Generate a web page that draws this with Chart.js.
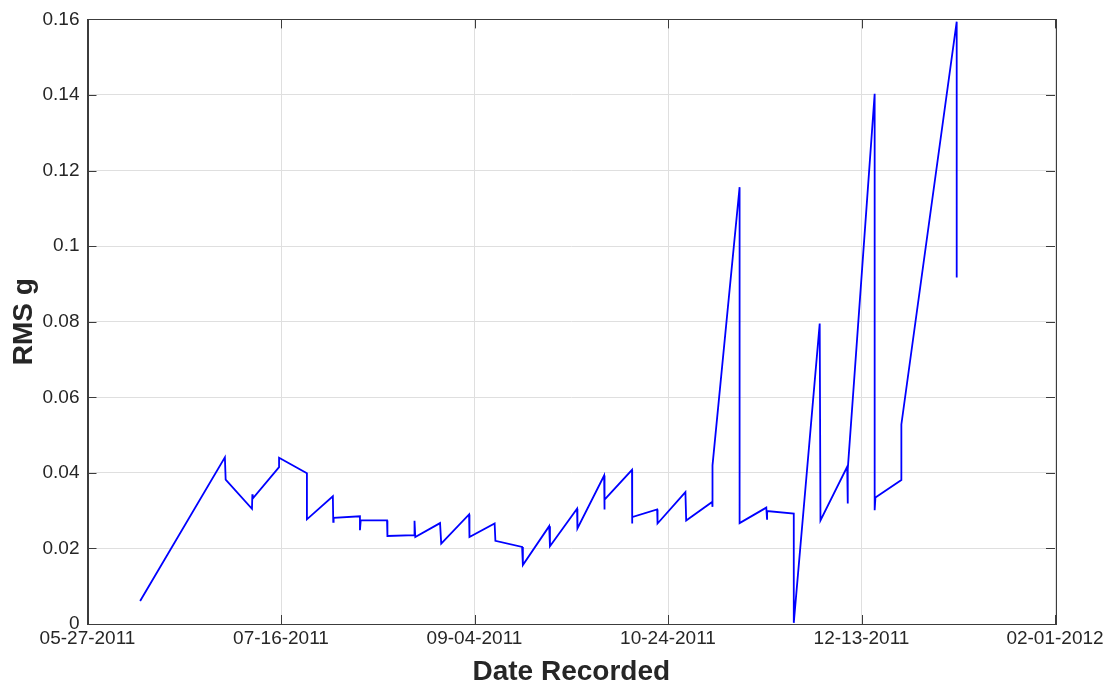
<!DOCTYPE html>
<html>
<head>
<meta charset="utf-8">
<title>RMS g by Date Recorded</title>
<script src="https://cdn.jsdelivr.net/npm/chart.js@4.4.1/dist/chart.umd.min.js"></script>
<style>
  html, body { margin: 0; padding: 0; background: #fff; }
  #wrap { width: 1109px; height: 688px; }
</style>
</head>
<body>
<div id="wrap"><canvas id="rmsChart" width="1109" height="688"></canvas></div>
<script>
// days counted from 05-27-2011 (several readings can share one date)
const dayNum = [
  13.6, 35.5, 35.7, 42.5, 42.6, 42.7, 49.5, 49.5, 56.7, 56.7,
  63.4, 63.5, 63.6, 70.4, 70.4, 70.6, 77.4, 77.5, 84.5, 84.5,
  84.7, 91.1, 91.4, 98.6, 98.7, 105.2, 105.4, 112.3, 112.5, 119.3,
  119.5, 126.5, 126.6, 133.5, 133.6, 133.6, 140.7, 140.7, 140.8, 147.2,
  147.3, 154.5, 154.7, 161.4, 161.5, 161.5, 168.5, 168.5, 175.4, 175.6,
  175.6, 182.5, 182.5, 189.2, 189.4, 196.3, 196.4, 196.5, 203.4, 203.4,
  203.6, 210.3, 210.3, 224.6, 224.6
];

// RMS acceleration in g for each reading
const rmsG = [
  0.0061, 0.0441, 0.0382, 0.0305, 0.0343, 0.0332, 0.0415, 0.0440, 0.0399, 0.0277,
  0.0338, 0.0270, 0.0281, 0.0285, 0.0248, 0.0274, 0.0274, 0.0233, 0.0235, 0.0273,
  0.0230, 0.0267, 0.0213, 0.0290, 0.0230, 0.0266, 0.0220, 0.0204, 0.0156, 0.0259,
  0.0206, 0.0305, 0.0253, 0.0393, 0.0303, 0.0329, 0.0408, 0.0266, 0.0283, 0.0303,
  0.0266, 0.0349, 0.0274, 0.0323, 0.0310, 0.0420, 0.1156, 0.0267, 0.0308, 0.0276,
  0.0299, 0.0292, 0.0003, 0.0795, 0.0274, 0.0416, 0.0319, 0.0410, 0.1403, 0.0301,
  0.0335, 0.0381, 0.0528, 0.1594, 0.0917
];

// axis ranges / tick steps
const startDate = Date.UTC(2011, 4, 27);
const xTicks = [0, 50, 100, 150, 200, 250];
const yTicks = [0, 0.02, 0.04, 0.06, 0.08, 0.1, 0.12, 0.14, 0.16];

const points = dayNum.map((d, i) => ({ x: d, y: rmsG[i] }));

function pad2(n) { return (n < 10 ? '0' : '') + n; }

function dateLabel(day) {
  const dt = new Date(startDate + day * 86400000);
  return pad2(dt.getUTCMonth() + 1) + '-' + pad2(dt.getUTCDate()) + '-' + dt.getUTCFullYear();
}

function yLabel(v) {
  const r = Math.round(v * 100) / 100;
  return r === 0 ? '0' : String(r);
}

const textColor = '#262626';
const axisColor = '#3c3c3c';
const gridColor = '#dfdfdf';
const fontFamily = '"Liberation Sans", Helvetica, Arial, sans-serif';

// box around the plot + small inward ticks on all four sides
const boxTicks = {
  id: 'boxTicks',
  afterDraw(chart) {
    const { ctx, chartArea: a, scales } = chart;
    const len = 9;
    ctx.save();
    ctx.strokeStyle = axisColor;
    ctx.lineWidth = 1;
    ctx.beginPath();
    scales.x.ticks.forEach(t => {
      const px = Math.round(scales.x.getPixelForValue(t.value)) + 0.5;
      ctx.moveTo(px, a.bottom); ctx.lineTo(px, a.bottom - len);
      ctx.moveTo(px, a.top); ctx.lineTo(px, a.top + len);
    });
    scales.y.ticks.forEach(t => {
      const py = Math.round(scales.y.getPixelForValue(t.value)) + 0.5;
      ctx.moveTo(a.left, py); ctx.lineTo(a.left + len, py);
      ctx.moveTo(a.right, py); ctx.lineTo(a.right - len, py);
    });
    ctx.stroke();
    ctx.strokeRect(Math.round(a.left) + 0.5, Math.round(a.top) + 0.5,
      Math.round(a.right - a.left), Math.round(a.bottom - a.top));
    ctx.restore();
  }
};

const ctx = document.getElementById('rmsChart').getContext('2d');
new Chart(ctx, {
  type: 'scatter',
  data: {
    datasets: [{
      label: 'RMS g',
      data: points,
      showLine: true,
      borderColor: '#0000ff',
      borderWidth: 1.8,
      pointRadius: 0,
      pointHoverRadius: 0,
      tension: 0
    }]
  },
  options: {
    responsive: false,
    animation: false,
    events: [],
    layout: { padding: { top: 17, right: 54, left: 0, bottom: 0 } },
    plugins: {
      legend: { display: false },
      tooltip: { enabled: false }
    },
    scales: {
      x: {
        type: 'linear',
        min: xTicks[0],
        max: xTicks[xTicks.length - 1],
        afterBuildTicks: s => { s.ticks = xTicks.map(v => ({ value: v })); },
        afterFit: s => { s.height = 64; },
        grid: { color: gridColor, drawTicks: false },
        border: { color: axisColor },
        ticks: {
          padding: 3,
          maxRotation: 0,
          color: textColor,
          font: { family: fontFamily, size: 19 },
          callback: v => dateLabel(v)
        },
        title: {
          display: true,
          text: 'Date Recorded',
          color: textColor,
          font: { family: fontFamily, size: 28, weight: 'bold' },
          padding: { top: 0, bottom: -1 }
        }
      },
      y: {
        min: 0,
        max: 0.16,
        afterBuildTicks: s => { s.ticks = yTicks.map(v => ({ value: v })); },
        afterFit: s => { s.width = 87.5; },
        grid: { color: gridColor, drawTicks: false },
        border: { color: axisColor },
        ticks: {
          padding: 8,
          color: textColor,
          font: { family: fontFamily, size: 19 },
          callback: v => yLabel(v)
        },
        title: {
          display: true,
          text: 'RMS g',
          color: textColor,
          font: { family: fontFamily, size: 28, weight: 'bold' },
          padding: { top: 7, bottom: 0 }
        }
      }
    }
  },
  plugins: [boxTicks]
});
</script>
</body>
</html>
